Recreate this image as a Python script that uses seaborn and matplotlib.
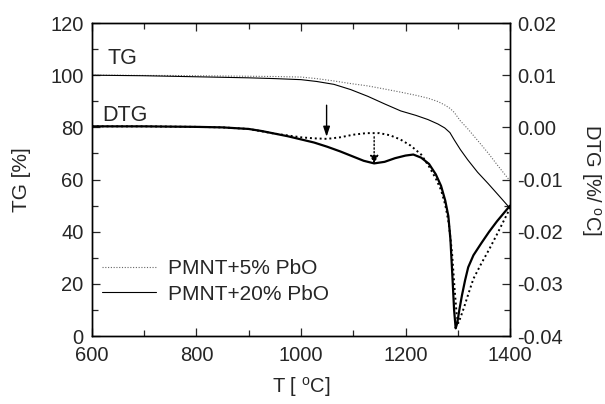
import numpy as np
import pandas as pd
import matplotlib
matplotlib.use('Agg')
import matplotlib.pyplot as plt
from matplotlib.ticker import MultipleLocator, FormatStrFormatter
import seaborn as sns

# ── data ────────────────────────────────────────────────────────────────────
T_TG = [600, 650, 700, 750, 800, 850, 900, 950, 1000, 1030, 1063, 1095, 1128, 1160, 1191, 1220,
        1243, 1262, 1275, 1285, 1293, 1305, 1319, 1338, 1358, 1378, 1400]
TG_5 = [100, 100, 99.9, 99.9, 99.8, 99.7, 99.6, 99.5, 99.3, 98.7, 97.8, 96.8, 95.9, 94.7, 93.5,
        92.3, 91.2, 89.9, 88.6, 87.3, 85.8, 82.5, 79.5, 75.0, 70.2, 65.0, 59.5]
TG_20 = [100, 99.9, 99.8, 99.6, 99.4, 99.2, 99.0, 98.7, 98.3, 97.6, 96.5, 94.5, 91.9, 89.0, 86.3,
         84.6, 83.0, 81.3, 79.8, 78.0, 75.3, 71.5, 67.6, 62.8, 58.5, 54.0, 49.0]

T_DTG_5 = [600, 700, 800, 850, 900, 950, 1000, 1025, 1050, 1075, 1100, 1125, 1150, 1170, 1190,
           1210, 1230, 1245, 1258, 1268, 1276, 1283, 1289, 1294, 1298, 1301, 1305, 1312, 1320,
           1330, 1345, 1360, 1375, 1390, 1400]
DTG_5 = [0.0002, 0.0002, 0.0001, 0.0, -0.0003, -0.0012, -0.0019, -0.0021, -0.0022, -0.0019,
         -0.0014, -0.0011, -0.0011, -0.0015, -0.0023, -0.0035, -0.0052, -0.0075, -0.0098, -0.0120,
         -0.0148, -0.0185, -0.0240, -0.0310, -0.0360, -0.0375, -0.0365, -0.0345, -0.0320, -0.0290,
         -0.0261, -0.0234, -0.0205, -0.0175, -0.0155]

T_DTG_20 = [600, 700, 800, 850, 900, 925, 950, 975, 1000, 1025, 1050, 1075, 1100, 1120, 1140,
            1160, 1180, 1200, 1215, 1230, 1245, 1258, 1268, 1276, 1282, 1286, 1290, 1293, 1296,
            1299, 1303, 1308, 1314, 1320, 1330, 1345, 1360, 1375, 1390, 1400]
DTG_20 = [0.0002, 0.0002, 0.0001, 0.0, -0.0003, -0.0007, -0.0012, -0.0017, -0.0023, -0.0029,
          -0.0037, -0.0046, -0.0056, -0.0064, -0.0069, -0.0066, -0.0059, -0.0054, -0.0052,
          -0.0058, -0.0070, -0.0090, -0.0112, -0.0140, -0.0170, -0.0215, -0.0290, -0.0350,
          -0.0385, -0.0375, -0.0350, -0.0322, -0.0293, -0.0268, -0.0245, -0.0222, -0.0200,
          -0.0180, -0.0162, -0.0150]

LABELS = ['PMNT+5% PbO', 'PMNT+20% PbO']

sns.set_style('ticks')
plt.rcParams['font.family'] = ['Liberation Sans', 'DejaVu Sans']
plt.rcParams['axes.unicode_minus'] = False
plt.rcParams['mathtext.fontset'] = 'custom'
plt.rcParams['mathtext.rm'] = 'Liberation Sans'

fig = plt.figure(figsize=(6.05, 4.04), dpi=100)
ax = fig.add_axes([0.152, 0.168, 0.691, 0.775])
ax2 = ax.twinx()

DOT = (0, (1, 1.5))

# TG curves (left axis)
sns.lineplot(x=T_TG, y=TG_5, ax=ax, color='0.4', lw=0.8, linestyle=DOT, label=LABELS[0])
sns.lineplot(x=T_TG, y=TG_20, ax=ax, color='black', lw=0.8, label=LABELS[1])

# DTG curves (right axis)
sns.lineplot(x=T_DTG_5, y=DTG_5, ax=ax2, color='black', lw=1.4, linestyle=DOT)
sns.lineplot(x=T_DTG_20, y=DTG_20, ax=ax2, color='black', lw=1.6)

ax.set_xlim(600, 1400)
ax.set_ylim(0, 120)
ax2.set_ylim(-0.04, 0.02)

ax.xaxis.set_major_locator(MultipleLocator(200))
ax.xaxis.set_minor_locator(MultipleLocator(100))
ax.yaxis.set_major_locator(MultipleLocator(20))
ax.yaxis.set_minor_locator(MultipleLocator(10))
ax2.yaxis.set_major_locator(MultipleLocator(0.01))
ax2.yaxis.set_minor_locator(MultipleLocator(0.005))
ax2.yaxis.set_major_formatter(FormatStrFormatter('%.2f'))

ax.tick_params(axis='x', which='both', direction='in', top=True, labelsize=14.5, pad=7)
ax.tick_params(axis='y', which='both', direction='in', right=False, labelsize=14.5, pad=6)
ax2.tick_params(axis='y', which='both', direction='in', labelsize=14.5, pad=5)
for a in (ax, ax2):
    a.tick_params(which='major', length=6, width=0.9)
    a.tick_params(which='minor', length=4, width=0.9)
    for s in a.spines.values():
        s.set_linewidth(1.0)
        s.set_color('black')

ax.set_xlabel(r'T [ $^{\rm o}$C]', fontsize=14.5)
ax.set_ylabel('TG [%]', fontsize=15)
ax2.set_ylabel(r'DTG [%/ $^{\rm o}$C]', fontsize=14.5, rotation=270, va='center')
ax.xaxis.set_label_coords(0.5, -0.125)
ax.yaxis.set_label_coords(-0.145, 0.5)
ax2.yaxis.set_label_coords(1.193, 0.5)

ax.text(629, 106.5, 'TG', fontsize=15.5, va='center')
ax.text(620, 84.5, 'DTG', fontsize=15.5, va='center')

# arrows marking the DTG features
ax.annotate('', xy=(1049, 76.4), xytext=(1049, 88.5),
            arrowprops=dict(arrowstyle='-|>,head_length=0.6,head_width=0.2', color='black',
                            lw=1.0, mutation_scale=10, shrinkA=0, shrinkB=0))
ax.annotate('', xy=(1140, 66.0), xytext=(1140, 76.4),
            arrowprops=dict(arrowstyle='-|>,head_length=0.5,head_width=0.25', color='black',
                            lw=1.0, linestyle=':', mutation_scale=10, shrinkA=0, shrinkB=0))

ax.legend(loc='upper left', bbox_to_anchor=(0.024, 0.245), frameon=False, fontsize=15,
          handlelength=2.6, handletextpad=0.55, labelspacing=0.3, borderpad=0,
          borderaxespad=0)

fig.savefig('out.png', dpi=100)
